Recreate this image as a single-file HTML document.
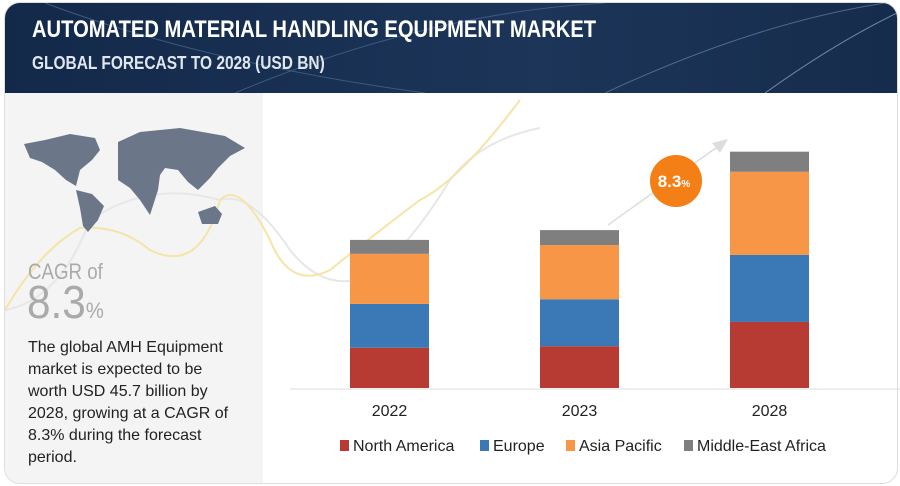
<!DOCTYPE html>
<html><head><meta charset="utf-8"><style>
body{margin:0;width:900px;height:486px;background:#fff;font-family:"Liberation Sans",sans-serif;overflow:hidden;position:relative}
#card{position:absolute;left:4px;top:2px;width:892px;height:480px;border:1px solid #ddd;border-radius:16px;overflow:hidden;background:#fff}
#hdr{position:absolute;left:0;top:0;width:892px;height:90px;background:linear-gradient(90deg,#13294a,#1c3558 60%,#162c4c)}
#left{position:absolute;left:0;top:90px;width:258px;height:390px;background:#f4f4f4}
.t1{position:absolute;left:27px;top:13px;color:#fff;font-size:24px;font-weight:bold;transform:scaleX(.84);transform-origin:left;white-space:nowrap}
.t2{position:absolute;left:27px;top:50px;color:#dfe6ee;font-size:18px;font-weight:bold;transform:scaleX(.86);transform-origin:left;white-space:nowrap}
</style></head><body>
<div id="card">
<div id="hdr">
<svg width="892" height="90" style="position:absolute;left:0;top:0">
<path d="M40 0 Q200 60 420 90" stroke="#3c5a80" fill="none"/><path d="M230 90 Q420 10 600 0" stroke="#3c5a80" fill="none"/>
<path d="M600 90 Q750 20 880 0" stroke="#4a6a90" fill="none"/><path d="M760 90 Q830 40 892 10" stroke="#6a8ab0" fill="none"/>
</svg>
<div class="t1">AUTOMATED MATERIAL HANDLING EQUIPMENT MARKET</div>
<div class="t2">GLOBAL FORECAST TO 2028 (USD BN)</div>
</div>
<div id="left"></div>
</div>
<svg id="chart" width="900" height="486" style="position:absolute;left:0;top:0">
<path d="M5 310 Q60 300 90 220 Q150 180 220 200 Q250 190 290 250 Q330 300 380 270 Q420 230 450 180 Q480 140 540 128" stroke="#e7e7e7" stroke-width="2" fill="none"/>
<path d="M5 310 Q40 250 80 228 Q120 225 150 250 Q200 275 220 200 Q240 180 270 240 Q290 290 330 270 Q380 230 420 200 Q460 180 520 100" stroke="#f6e3a6" stroke-width="2" fill="none"/>
<g fill="#6b7789">
<path d="M24 144 L45 140 L70 134 L95 138 L100 150 L92 160 L80 170 L76 186 L66 180 L55 170 L42 162 L30 158 Z"/>
<path d="M76 190 L92 194 L104 206 L98 220 L88 232 L83 226 L80 208 Z"/>
<path d="M118 142 L140 132 L180 128 L225 136 L245 148 L230 156 L218 168 L210 178 L198 190 L188 182 L178 170 L165 168 L160 175 L158 190 L150 215 L140 200 L130 188 L118 180 L118 162 Z"/>
<path d="M198 212 L215 206 L222 214 L218 224 L202 224 Z"/>
</g>
<text x="28" y="279" font-size="22" fill="#aaa" transform="translate(28,0) scale(0.85,1) translate(-28,0)">CAGR of</text>
<text x="27" y="318" font-size="46" fill="#aaa" transform="translate(27,0) scale(0.92,1) translate(-27,0)">8.3<tspan font-size="22">%</tspan></text>
<g font-size="16" fill="#222">
<text x="28" y="352">The global AMH Equipment</text><text x="28" y="374">market is expected to be</text>
<text x="28" y="396">worth USD 45.7 billion by</text><text x="28" y="418">2028, growing at a CAGR of</text>
<text x="28" y="440">8.3% during the forecast</text><text x="28" y="462">period.</text>
</g>
<line x1="290" y1="389" x2="900" y2="389" stroke="#ddd"/>
<g id="bars"></g><g id="xlabels"></g>
<line x1="608" y1="225" x2="720" y2="145" stroke="#ddd" stroke-width="1.5"/>
<polygon points="728,139 712,143 720,153" fill="#ddd"/>
<circle cx="676" cy="181" r="26" fill="#f57f17"/>
<text x="674" y="187" font-size="17" font-weight="bold" fill="#fff" text-anchor="middle">8.3<tspan font-size="10">%</tspan></text>
<g id="legend"></g>
</svg>
<script>
const categories=["2022","2023","2028"];
const seriesNames=["North America","Europe","Asia Pacific","Middle-East Africa"];
const northAmerica=[7.8,8.1,12.8];
const europe=[8.5,9.1,13.0];
const asiaPacific=[9.7,10.5,16.1];
const mea=[2.7,2.9,3.9];
const colors=["#b73b33","#3a79b6","#f79646","#7f7f7f"];
const series=[northAmerica,europe,asiaPacific,mea];
const NS="http://www.w3.org/2000/svg";
const base=388, scale=5.16;
const y=v=>base-v*scale;
const xc=i=>389.5+i*190;
const bars=document.getElementById('bars');
categories.forEach((c,i)=>{
  let acc=0;
  series.forEach((s,k)=>{
    const r=document.createElementNS(NS,'rect');
    r.setAttribute('x',xc(i)-39.5);r.setAttribute('width',79);
    r.setAttribute('y',y(acc+s[i]));r.setAttribute('height',s[i]*scale);
    r.setAttribute('fill',colors[k]);
    
    
    bars.appendChild(r);acc+=s[i];
  });
  const t=document.createElementNS(NS,'text');
  t.setAttribute('x',xc(i));t.setAttribute('y',416);t.setAttribute('text-anchor','middle');
  t.setAttribute('font-size','16');t.setAttribute('fill','#222');t.textContent=c;
  
  
  document.getElementById('xlabels').appendChild(t);
});
const lx=[340,480,566,684];
const lg=document.getElementById('legend');
seriesNames.forEach((n,k)=>{
  const g=document.createElementNS(NS,'g');
  
  
  const r=document.createElementNS(NS,'rect');
  r.setAttribute('x',lx[k]);r.setAttribute('y',440);r.setAttribute('width',9);r.setAttribute('height',11);r.setAttribute('fill',colors[k]);
  const t=document.createElementNS(NS,'text');
  t.setAttribute('x',lx[k]+13);t.setAttribute('y',451);t.setAttribute('font-size','16');t.setAttribute('fill','#222');t.textContent=n;
  g.appendChild(r);g.appendChild(t);lg.appendChild(g);
});
</script>
</body></html>
